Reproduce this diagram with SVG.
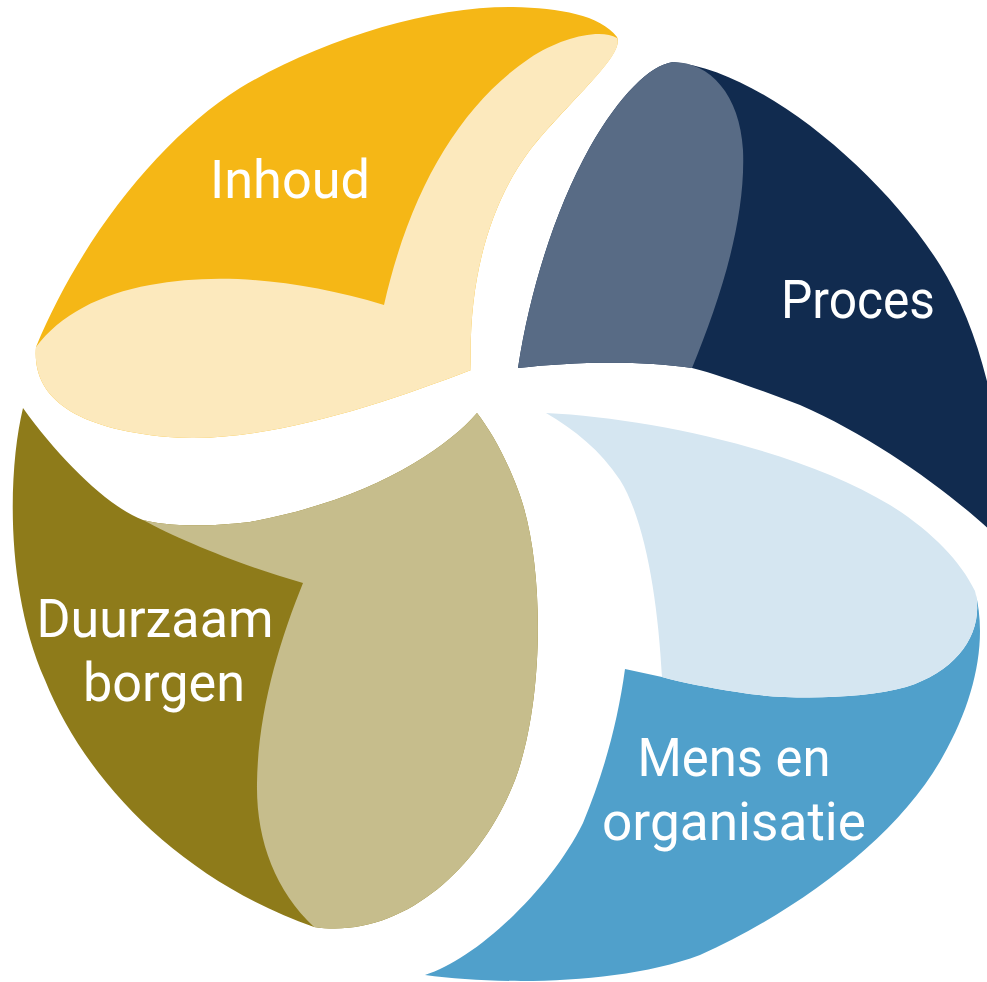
<svg xmlns="http://www.w3.org/2000/svg" width="987" height="982" viewBox="0 0 987 982">
<style>
.lbl{font-family:Roboto,"Open Sans","Liberation Sans",sans-serif;font-size:53px;fill:#ffffff;text-anchor:middle}
</style>
<rect x="0" y="0" width="987" height="982" fill="#ffffff"/>
<g id="inhoud">
<path fill="#F5B716" d="M617,37 C600,15 560,8 513,7 C430,6 320,40 240,88 C160,138 80,240 36,347 C32,395 70,428 168,437 C260,445 380,405 471,370 C468,290 485,210 530,150 C570,100 625,55 617,37 Z"/>
<path fill="#FCE9BD" d="M617,38 C600,28 560,38 530,58 C460,105 410,190 384,305 C300,280 220,272 150,285 C100,294 60,315 36,347 C32,395 70,428 168,437 C260,445 380,405 471,370 C468,290 485,210 530,150 C570,100 625,55 617,38 Z"/>
<text class="lbl" x="290" y="198" textLength="160" lengthAdjust="spacingAndGlyphs">Inhoud</text>
</g>
<g id="proces">
<path fill="#112B4F" d="M518,368 C530,290 555,210 590,147 C620,95 650,65 673,62 C760,70 880,170 940,265 C965,305 985,360 995,420 L1000,420 L1000,540 C960,500 880,440 800,405 C760,390 720,375 692,368 C640,360 570,362 518,368 Z"/>
<path fill="#586B85" d="M518,368 C530,290 555,210 590,147 C620,95 650,65 673,62 C710,62 740,95 743,150 C746,220 720,300 692,368 C640,360 570,362 518,368 Z"/>
<text class="lbl" x="858" y="318" textLength="154" lengthAdjust="spacingAndGlyphs">Proces</text>
</g>
<g id="duurzaam-borgen">
<path fill="#8E7B1A" d="M23,408 C8,470 5,590 45,680 C85,780 180,880 314,927 C400,940 480,870 515,780 C545,700 545,560 518,490 C505,455 490,430 477,413 C445,450 370,500 250,522 C200,528 160,525 143,520 C110,508 60,460 23,408 Z"/>
<path fill="#C6BD8C" d="M143,520 C180,540 240,565 303,583 C280,640 258,710 257,783 C256,840 275,890 314,927 C400,940 480,870 515,780 C545,700 545,560 518,490 C505,455 490,430 477,413 C445,450 370,500 250,522 C200,528 160,525 143,520 Z"/>
<text class="lbl" x="155" y="637" textLength="237" lengthAdjust="spacingAndGlyphs">Duurzaam</text>
<text class="lbl" x="164" y="701" textLength="162" lengthAdjust="spacingAndGlyphs">borgen</text>
</g>
<g id="mens-en-organisatie">
<path fill="#50A0CB" d="M625,669 L662,677 C680,682 710,688 737,692 C780,700 860,700 906,687 C960,670 985,630 975,591 C988,640 975,700 943,756 C900,835 800,910 700,955 C620,985 500,985 425,975 C475,960 550,890 583,823 C605,770 618,720 625,669 Z"/>
<path fill="#D5E6F1" d="M546,413 C650,418 800,450 890,505 C930,530 960,560 975,591 C985,630 960,670 906,687 C860,700 780,700 737,692 C710,688 680,682 662,677 C658,600 645,520 620,480 C600,450 575,430 546,413 Z"/>
<text class="lbl" x="734" y="776" textLength="193" lengthAdjust="spacingAndGlyphs">Mens en</text>
<text class="lbl" x="734" y="840" textLength="264" lengthAdjust="spacingAndGlyphs">organisatie</text>
</g>
<g id="connectors"></g>
</svg>
